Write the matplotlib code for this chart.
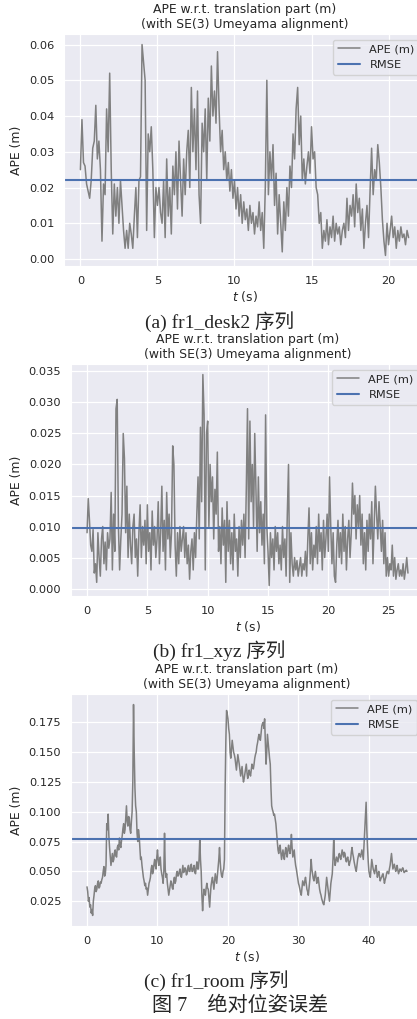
import matplotlib
matplotlib.use("Agg")
import matplotlib.pyplot as plt
import seaborn as sns
import numpy as np

# APE values in mm
desk2_ape = [25, 39, 27, 26, 21, 19, 17, 22, 31, 33,
             43, 28, 33, 25, 5, 21, 18, 42, 30, 52,
             25, 7, 21, 12, 20, 10, 22, 15, 8, 3,
             8, 3, 10, 7, 3, 12, 20, 6, 22, 23,
             60, 55, 50, 8, 35, 30, 37, 25, 6, 20,
             15, 20, 13, 10, 22, 6, 28, 12, 20, 7,
             26, 18, 30, 14, 33, 22, 12, 28, 18, 30,
             36, 20, 48, 30, 42, 25, 47, 18, 10, 38,
             30, 42, 22, 45, 33, 54, 40, 47, 38, 58,
             42, 30, 36, 25, 30, 22, 27, 19, 25, 17,
             22, 14, 20, 12, 18, 10, 16, 11, 14, 8,
             15, 10, 13, 7, 12, 9, 16, 8, 13, 3,
             20, 50, 18, 30, 22, 32, 15, 24, 7, 18,
             10, 2, 16, 8, 20, 12, 26, 20, 35, 28,
             42, 48, 32, 40, 22, 28, 21, 26, 30, 24,
             37, 28, 30, 20, 18, 10, 13, 3, 8, 5,
             11, 4, 9, 6, 12, 5, 10, 7, 9, 4,
             8, 10, 6, 17, 8, 15, 12, 18, 9, 21,
             13, 17, 8, 14, 3, 10, 15, 6, 19, 31,
             18, 25, 22, 32, 27, 20, 11, 5, 1, 10,
             4, 8, 12, 6, 9, 3, 8, 5, 9, 6,
             7, 4, 8, 6]
desk2_rmse = 22.2

xyz_ape = [9, 14.5, 11, 7, 6, 9.5, 2.5, 4, 1, 9,
           5, 2, 8, 10, 4, 7.5, 3, 9, 6.5, 8,
           15.5, 3, 12, 6, 29, 30.5, 10, 3, 8, 12,
           25, 21, 9, 16.5, 5, 12, 7, 4, 10, 12,
           5, 8, 2, 9, 13.5, 5, 10, 7, 11, 4,
           13.5, 6, 9, 3, 12.5, 7, 10, 5, 8, 14,
           4, 9, 16.5, 6, 11, 3, 15.5, 8, 12, 5,
           9, 23, 20, 7, 2, 9, 4, 10, 6, 8,
           10, 5, 9, 4, 7, 1.5, 6, 8, 3, 9,
           5, 12, 18, 8, 26, 14, 34.5, 28, 3, 25,
           27, 10, 20, 14, 18, 8, 16, 12, 22, 6,
           10, 4, 13, 7, 11, 1, 14, 6, 11, 4,
           9, 3, 12, 6, 8, 2, 10, 5, 11, 7,
           12, 5, 16, 29, 8, 27, 14, 20, 10, 25,
           16, 6, 18, 9, 14, 7, 12, 4, 28, 10,
           6, 0.5, 9, 5, 8, 3, 10, 6, 9, 4,
           7, 3, 10, 5, 8, 2, 12, 20, 1, 9,
           4, 2, 5, 3, 4.5, 2, 3.5, 5, 2, 4,
           3, 6, 2, 8, 13, 4, 9, 3, 7, 5,
           10, 4, 12, 6, 9, 3, 11, 5, 8, 12,
           6, 18, 10, 4, 9, 2, 1, 7, 11, 5,
           9, 4, 12, 6, 10, 3, 8, 11, 5, 9,
           17, 12, 15, 8, 13.5, 10, 15, 7, 12, 4,
           9, 3, 11, 6, 12, 8, 14, 4, 10, 16.5,
           12, 8, 14, 10, 6, 11, 4, 9, 2, 5,
           2, 4, 3, 7, 2, 5, 1.5, 3, 4, 2,
           3, 2, 4, 1.5, 3, 5, 2.5]
xyz_rmse = 9.7

room_ape = [37, 33, 25, 28, 20, 22, 15, 18, 13, 25,
            30, 36, 38, 33, 35, 40, 42, 36, 37, 41,
            40, 43, 45, 50, 54, 46, 48, 55, 90, 85,
            98, 80, 70, 62, 55, 60, 65, 58, 60, 66,
            68, 63, 62, 70, 72, 68, 78, 72, 70, 76,
            80, 86, 90, 82, 85, 95, 105, 92, 88, 96,
            95, 85, 82, 92, 100, 125, 190, 150, 120, 105,
            100, 82, 75, 85, 80, 70, 60, 62, 55, 50,
            45, 42, 38, 40, 35, 36, 30, 35, 40, 42,
            45, 52, 55, 48, 50, 56, 60, 55, 52, 62,
            68, 60, 55, 58, 62, 52, 48, 45, 40, 50,
            82, 52, 45, 48, 40, 35, 30, 34, 38, 42,
            40, 36, 35, 42, 45, 40, 42, 48, 50, 46,
            47, 50, 52, 46, 45, 50, 55, 49, 50, 53,
            52, 47, 48, 53, 55, 50, 50, 54, 56, 50,
            50, 53, 55, 49, 48, 54, 58, 52, 52, 60,
            77, 60, 50, 30, 17, 28, 35, 32, 30, 36,
            40, 36, 35, 28, 20, 30, 38, 42, 45, 40,
            35, 42, 48, 44, 40, 47, 55, 60, 70, 58,
            50, 46, 45, 50, 52, 60, 120, 160, 185, 182,
            178, 170, 165, 150, 145, 152, 160, 155, 150, 148,
            145, 140, 135, 142, 148, 144, 140, 135, 130, 134,
            138, 130, 125, 128, 132, 136, 140, 133, 128, 131,
            135, 132, 130, 135, 140, 137, 136, 140, 145, 148,
            150, 155, 158, 162, 165, 161, 160, 166, 172, 174,
            175, 170, 178, 160, 140, 150, 165, 158, 150, 145,
            140, 120, 105, 102, 100, 97, 98, 94, 90, 82,
            75, 68, 65, 70, 72, 66, 60, 64, 68, 63,
            60, 66, 70, 65, 62, 68, 72, 68, 65, 70,
            81, 70, 62, 65, 68, 60, 55, 52, 48, 44,
            40, 38, 35, 32, 30, 36, 42, 40, 38, 42,
            45, 40, 35, 33, 30, 36, 42, 50, 60, 52,
            48, 44, 42, 46, 50, 45, 40, 43, 45, 40,
            35, 32, 30, 27, 25, 23, 22, 26, 30, 38,
            45, 40, 35, 30, 25, 32, 40, 44, 48, 60,
            77, 62, 55, 58, 62, 60, 58, 63, 65, 62,
            60, 64, 68, 65, 62, 66, 65, 60, 58, 61,
            62, 58, 55, 58, 60, 66, 70, 65, 62, 58,
            55, 52, 50, 55, 60, 63, 65, 64, 62, 65,
            68, 64, 60, 72, 85, 95, 108, 85, 70, 58,
            50, 47, 45, 52, 60, 56, 52, 50, 48, 52,
            55, 50, 45, 48, 50, 46, 42, 44, 45, 47,
            48, 44, 40, 43, 45, 48, 50, 49, 48, 52,
            55, 60, 65, 58, 52, 54, 56, 53, 50, 52,
            55, 51, 48, 50, 52, 51, 50, 52, 53, 51,
            49, 50, 50, 51, 50]
room_rmse = 77.2

captions = ["(a) fr1_desk2 序列", "(b) fr1_xyz 序列", "(c) fr1_room 序列"]
fig_caption = "图 7\u3000绝对位姿误差"
title = "APE w.r.t. translation part (m)\n(with SE(3) Umeyama alignment)"

sns.set_style("darkgrid")
plt.rcParams['font.family'] = ['DejaVu Sans']
plt.rcParams['text.color'] = '#262626'
plt.rcParams['axes.labelcolor'] = '#262626'
plt.rcParams['xtick.color'] = '#262626'
plt.rcParams['ytick.color'] = '#262626'

W, H = 417, 1019
fig = plt.figure(figsize=(W / 100, H / 100), dpi=100)
fig.patch.set_facecolor('white')


def box(left, top, right, bottom):
    return [left / W, 1 - bottom / H, (right - left) / W, (bottom - top) / H]


series = [
    (np.arange(len(desk2_ape)) * 0.1, desk2_ape, desk2_rmse, box(64, 34, 425, 266)),
    (np.arange(len(xyz_ape)) * 0.1, xyz_ape, xyz_rmse, box(71, 364, 424, 596)),
    (np.arange(len(room_ape)) * 0.1, room_ape, room_rmse, box(71, 694, 423, 926)),
]

for t, ape, rmse, rect in series:
    ax = fig.add_axes(rect)
    ax.plot(t, np.array(ape) / 1000.0, color='gray', lw=1.1, label='APE (m)')
    ax.axhline(rmse / 1000.0, color='#4c72b0', lw=1.5, label='RMSE')
    ax.set_title(title, fontsize=8.9, pad=4)
    ax.set_xlabel('$t$ (s)', fontsize=8.9, labelpad=2)
    ax.set_ylabel('APE (m)', fontsize=8.9, labelpad=4)
    ax.tick_params(labelsize=8.2, length=0, pad=7)
    ax.grid(True, color='white', lw=0.9)
    leg = ax.legend(loc='upper right', fontsize=8.2, frameon=True)
    leg.get_frame().set_edgecolor('#cccccc')

cap_font = ['Liberation Serif', 'Noto Sans CJK SC']
for x, y, txt in zip([220, 219.5, 216.5], [322, 651, 981], captions):
    fig.text(x / W, 1 - y / H, txt, ha='center', va='center',
             fontsize=14, family=cap_font)
fig.text(240.5 / W, 1 - 1006 / H, fig_caption, ha='center', va='center',
         fontsize=14.5, family=cap_font)

fig.savefig('out.png', dpi=100)
